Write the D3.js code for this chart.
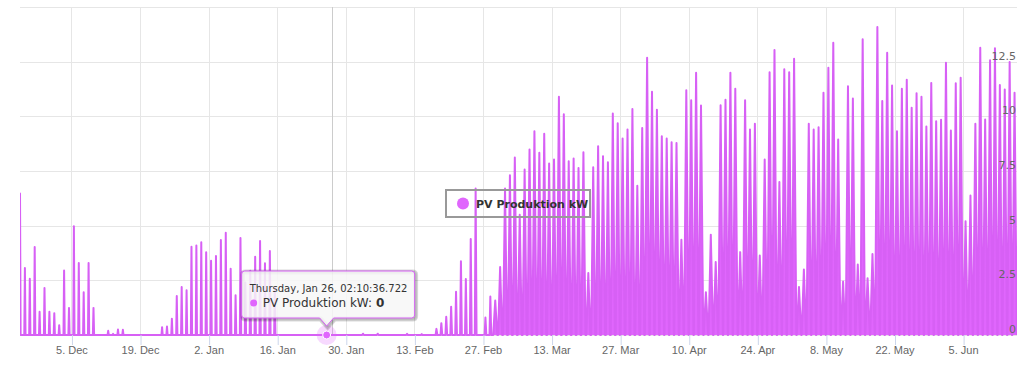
<!DOCTYPE html>
<html>
<head>
<meta charset="utf-8">
<script src="https://cdn.jsdelivr.net/npm/d3@7"></script>
<style>
  body { margin: 0; background: #fff; }
  svg { display: block; font-family: "DejaVu Sans", "Lucida Grande", Verdana, sans-serif; }
</style>
</head>
<body>
<svg id="chart" width="1030" height="378"></svg>
<script>
// daily peak of the PV output, one value per day from 24 Nov 2016
const FIRST_DAY = new Date(2016, 10, 24);
const PEAK_KW = [
  // Nov 24-30
  6.47, 3.06, 2.57, 4.02, 1.06, 2.15, 1.06,
  // Dec
  1.00, 0.45, 2.95, 1.24, 4.97, 3.29, 1.96, 3.29, 1.24, 0, 0, 0.19, 0.05, 0.25, 0.24,
  0, 0, 0, 0, 0, 0, 0, 0.36, 0.39, 0.74, 1.78, 2.19, 2.05, 4.04, 4.09, 4.24,
  // Jan
  3.78, 3.40, 3.61, 4.34, 4.68, 3.03, 1.82, 4.44, 2.40, 2.94, 3.58, 4.30, 3.28, 3.84, 2.20,
  0, 0, 0, 0, 0, 0, 0, 0, 0, 0, 0, 0, 0, 0, 0, 0,
  // Feb
  0, 0.06, 0, 0, 0.06, 0, 0, 0, 0, 0, 0.05, 0, 0, 0.04, 0, 0,
  0.28, 0.54, 0.83, 1.29, 1.98, 3.37, 2.56, 4.39, 6.70, 0, 0.80, 1.76,
  // Mar
  1.58, 3.11, 6.70, 7.30, 8.12, 5.50, 7.57, 8.48, 9.32, 8.33, 9.20, 7.84, 8.03, 10.90, 10.09, 7.95,
  8.07, 7.64, 8.36, 2.83, 7.67, 8.63, 8.18, 7.90, 10.13, 9.68, 8.99, 9.40, 10.34, 6.83, 9.47,
  // Apr
  12.68, 11.12, 10.30, 9.09, 8.99, 8.81, 8.78, 4.36, 11.19, 10.73, 11.99, 10.50, 1.96, 4.59, 3.34,
  10.51, 10.76, 11.99, 11.26, 3.79, 10.73, 9.40, 9.66, 3.63, 8.03, 12.02, 13.03, 7.00, 12.15, 12.02,
  // May
  12.63, 2.20, 2.99, 9.66, 9.40, 9.50, 11.08, 12.22, 13.37, 8.94, 2.45, 11.38, 10.82, 3.22, 13.52, 2.60,
  3.70, 14.09, 10.70, 12.91, 11.41, 9.32, 11.26, 11.67, 10.39, 11.05, 10.90, 9.54, 11.53, 9.78, 9.84,
  // Jun 1-15
  12.45, 9.35, 11.51, 11.76, 5.20, 6.38, 9.66, 13.14, 9.86, 12.56, 13.11, 11.43, 11.23, 12.48, 11.08
];

// hours of the day with output, by month (0 = Jan)
const DAYLIGHT = [[9, 15.5], [8, 16.5], [2, 22], [1, 23], [1, 23], [1, 23],
                  [1, 23], [1, 23], [2, 22], [6, 18], [9, 15], [9, 15]];

const Y_TICKS = [0, 2.5, 5, 7.5, 10, 12.5, 15];
const X_TICK_FIRST = new Date(2016, 11, 5);
const X_TICK_STEP = 14;

const SERIES_NAME = "PV Produktion kW";
const HOVER_TIME = new Date(2017, 0, 26, 2, 10, 36, 722);
const HOVER_KW = 0;
const POINTER_TIME = new Date(2017, 0, 27, 4, 30);

const COLOR = "#e066fd";
const LINE_COLOR = "#d760f5";
const PLOT = { left: 20, right: 1017, top: 7, bottom: 335 };

const svg = d3.select("#chart");

const x = d3.scaleTime()
  .domain([d3.timeHour.offset(FIRST_DAY, 12), d3.timeDay.offset(FIRST_DAY, PEAK_KW.length)])
  .range([PLOT.left, PLOT.right]);

const y = d3.scaleLinear()
  .domain([0, 15])
  .range([PLOT.bottom, PLOT.top]);

const crisp = (v) => Math.round(v) + 0.5;

// build the points: zero at start of output, peak at noon, zero at the end
const points = [];
PEAK_KW.forEach((kw, i) => {
  const day = d3.timeDay.offset(FIRST_DAY, i);
  const [from, to] = DAYLIGHT[day.getMonth()];
  points.push({ t: new Date(+day + from * 3600e3), v: 0 });
  points.push({ t: d3.timeHour.offset(day, 12), v: kw });
  points.push({ t: new Date(+day + to * 3600e3), v: 0 });
});

svg.append("defs").append("clipPath").attr("id", "plotClip")
  .append("rect")
  .attr("x", PLOT.left).attr("y", 0)
  .attr("width", PLOT.right - PLOT.left).attr("height", PLOT.bottom + 3);

// grid
const xTicks = d3.timeDay.range(X_TICK_FIRST, x.domain()[1], X_TICK_STEP);

svg.append("g").selectAll("line")
  .data(Y_TICKS)
  .join("line")
  .attr("x1", PLOT.left).attr("x2", PLOT.right)
  .attr("y1", (d) => crisp(y(d))).attr("y2", (d) => crisp(y(d)))
  .attr("stroke", "#e6e6e6");

svg.append("g").selectAll("line")
  .data(xTicks)
  .join("line")
  .attr("x1", (d) => crisp(x(d))).attr("x2", (d) => crisp(x(d)))
  .attr("y1", PLOT.top).attr("y2", PLOT.bottom)
  .attr("stroke", "#e6e6e6");

// crosshair
svg.append("line")
  .attr("x1", crisp(x(POINTER_TIME))).attr("x2", crisp(x(POINTER_TIME)))
  .attr("y1", PLOT.top).attr("y2", PLOT.bottom)
  .attr("stroke", "#cccccc");

// series
const series = svg.append("g").attr("clip-path", "url(#plotClip)");

series.append("path")
  .datum(points)
  .attr("fill", COLOR)
  .attr("d", d3.area().x((d) => x(d.t)).y0(y(0)).y1((d) => y(d.v)));

series.append("path")
  .datum(points)
  .attr("fill", "none")
  .attr("stroke", LINE_COLOR)
  .attr("stroke-width", 2)
  .attr("stroke-linejoin", "round")
  .attr("d", d3.line().x((d) => x(d.t)).y((d) => y(d.v)));

// y labels, inside on the right
svg.append("g").selectAll("text")
  .data(Y_TICKS.slice(0, -1))
  .join("text")
  .attr("x", PLOT.right - 1)
  .attr("y", (d) => y(d) - 2)
  .attr("text-anchor", "end")
  .attr("font-size", 11)
  .attr("fill", "#666666")
  .text((d) => d);

// x axis
const xAxis = svg.append("g")
  .attr("transform", `translate(0, ${PLOT.bottom})`)
  .call(d3.axisBottom(x).tickValues(xTicks).tickFormat(d3.timeFormat("%-d. %b")).tickSize(10));
xAxis.select(".domain").remove();
xAxis.selectAll(".tick line").attr("stroke", "#ccd6eb").attr("transform", "translate(0.5,0)");
xAxis.selectAll(".tick text")
  .attr("y", 19).attr("dy", null)
  .attr("font-size", 11)
  .attr("font-family", null)
  .attr("fill", "#666666");

// legend
const legend = svg.append("g").attr("transform", "translate(446, 190)");
legend.append("rect")
  .attr("width", 144).attr("height", 27)
  .attr("fill", "none")
  .attr("stroke", "#999999")
  .attr("stroke-width", 2);
legend.append("circle")
  .attr("cx", 17).attr("cy", 13.5).attr("r", 6)
  .attr("fill", COLOR);
legend.append("text")
  .attr("x", 30).attr("y", 18)
  .attr("font-size", 11)
  .attr("font-weight", "bold")
  .attr("fill", "#333333")
  .text(SERIES_NAME);

// hovered point
const px = x(HOVER_TIME);
const py = y(HOVER_KW);
svg.append("circle")
  .attr("cx", px).attr("cy", py).attr("r", 10)
  .attr("fill", COLOR).attr("opacity", 0.25);
svg.append("circle")
  .attr("cx", px).attr("cy", py).attr("r", 4)
  .attr("fill", COLOR).attr("stroke", "#fff");

// tooltip
const L = px - 85, R = px + 88, T = py - 64, B = py - 17, r = 3;
const callout = `M${L + r},${T} H${R - r} Q${R},${T} ${R},${T + r} V${B - r} Q${R},${B} ${R - r},${B}
  H${px + 7} L${px},${B + 8} L${px - 7},${B} H${L + r} Q${L},${B} ${L},${B - r} V${T + r} Q${L},${T} ${L + r},${T} Z`;

const tip = svg.append("g");
[3, 2, 1].forEach((w) => {
  tip.append("path")
    .attr("d", callout)
    .attr("transform", "translate(1,1)")
    .attr("fill", "none")
    .attr("stroke", "#000")
    .attr("stroke-opacity", 0.05 * w)
    .attr("stroke-width", w * 2 - 1);
});
tip.append("path")
  .attr("d", callout)
  .attr("fill", "rgba(247,247,247,0.85)")
  .attr("stroke", LINE_COLOR);

tip.append("text")
  .attr("x", L + 8).attr("y", T + 21)
  .attr("font-size", 10)
  .attr("fill", "#333333")
  .text(d3.timeFormat("%A, %b %e, %H:%M:%S.%L")(HOVER_TIME));

tip.append("circle")
  .attr("cx", L + 12).attr("cy", T + 32).attr("r", 3.5)
  .attr("fill", COLOR);

const tipLine = tip.append("text")
  .attr("x", L + 21).attr("y", T + 36)
  .attr("font-size", 12)
  .attr("fill", "#333333");
tipLine.append("tspan").text(`${SERIES_NAME}: `);
tipLine.append("tspan").attr("font-weight", "bold").text(HOVER_KW);
</script>
</body>
</html>
